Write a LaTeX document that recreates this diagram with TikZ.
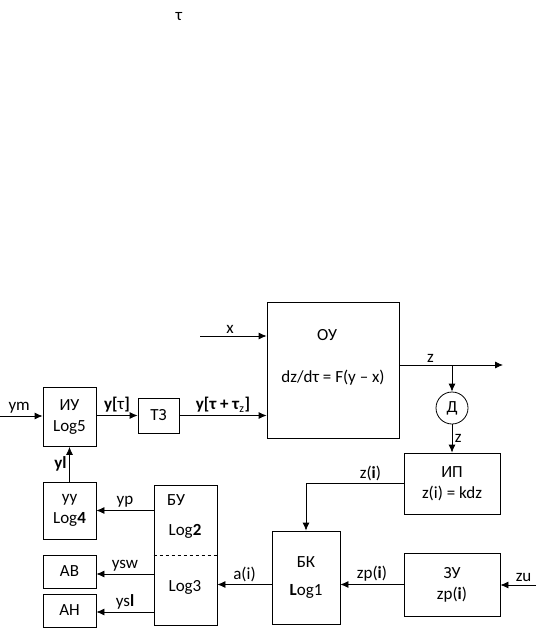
\documentclass[tikz,border=0pt]{standalone}
\usepackage{fontspec}
\setmainfont{Carlito}
\usepackage{tikz}
\usetikzlibrary{arrows.meta}
\tikzstyle{arrow} = [->,>={Latex[length=8pt,width=7pt]}]
\tikzstyle{block} = [draw,line width=0.8pt,align=center,inner sep=0pt]
\tikzstyle{lbl} = [inner sep=2.5pt]

\begin{document}
\begin{tikzpicture}[x=1pt,y=-1pt,line width=0.8pt,font=\fontsize{17}{21}\selectfont]
\useasboundingbox (0,0) rectangle (536,628);

\node[lbl] (tau) at (179,17) {τ};

% blocks
\node[block,minimum width=53pt,minimum height=59pt] (iu) at (69.5,417) {ИУ\\Log5};
\node[block,minimum width=41pt,minimum height=35pt] (tz) at (158.5,415.5) {ТЗ};
\node[block,minimum width=132pt,minimum height=136pt] (ou) at (333,370) {};
\node[lbl] (ou-t) at (327,335) {ОУ};
\node[lbl] (ou-f) at (333,378) {dz/dτ = F(y – x)};
\node[block,circle,minimum size=32pt] (dd) at (452,408) {Д};
\node[block,minimum width=96pt,minimum height=61pt] (ip) at (452,483.5) {ИП\\z(i) = kdz};
\node[block,minimum width=68pt,minimum height=93pt] (bk) at (306,577.5) {БК\\[7pt]\textbf{L}og1};
\node[block,minimum width=96pt,minimum height=63pt] (zu) at (452,584.5) {ЗУ\\zp(\textbf{i})};
\node[block,minimum width=63pt,minimum height=140pt] (bu) at (185.5,555) {};
\node[lbl] (bu-t) at (176,500) {БУ};
\node[lbl] (bu-l2) at (185,531) {Log\textbf{2}};
\node[lbl] (bu-l3) at (185,587) {Log3};
\draw[dashed] (bu.west) -- (bu.east);
\node[block,minimum width=53pt,minimum height=57pt] (uu) at (69.5,510.5) {уу\\Log\textbf{4}};
\node[block,minimum width=53pt,minimum height=33pt] (av) at (69.5,571.5) {АВ};
\node[block,minimum width=53pt,minimum height=33pt] (an) at (69.5,610.5) {АН};

% free ends
\coordinate (ymin) at (0,416);
\coordinate (xin) at (200,336);
\coordinate (zout) at (503,365);
\coordinate (zuin) at (536,585);

% connectors
\draw[arrow] (ymin) -- node[lbl,above,pos=0.45] {ym} (ymin -| iu.west);
\draw[arrow] (iu.east |- tz.west) -- node[lbl,above] {\textbf{y[}τ\textbf{]}} (tz.west);
\draw[arrow] (tz.east) -- node[lbl,above] {\textbf{y[τ + τ}\textsubscript{z}\textbf{]}} (tz.east -| ou.west);
\draw[arrow] (xin) -- node[lbl,above,pos=0.45] {x} (xin -| ou.west);
\draw[arrow] (ou.east |- zout) -- node[lbl,above,pos=0.3] {z} (zout);
\draw[arrow] (dd |- zout) -- (dd.north);
\draw[arrow] (dd.south) -- node[lbl,right] {z} (ip.north);
\draw[arrow] (ip.west) -| node[lbl,above,pos=0.17] {z(\textbf{i})} (bk.north);
\draw[arrow] (zuin) -- node[lbl,above,pos=0.35] {zu} (zuin -| zu.east);
\draw[arrow] (zu.west) -- node[lbl,above] {zp(\textbf{i})} (zu.west -| bk.east);
\draw[arrow] (bk.west |- zu) -- node[lbl,above] {a(i)} (bu.east |- zu);
\draw[arrow] (bu.west |- uu) -- node[lbl,above] {yp} (uu.east);
\draw[arrow] (bu.west |- 0,574) -- node[lbl,above] {ysw} (av.east |- 0,574);
\draw[arrow] (bu.west |- 0,612) -- node[lbl,above] {ys\textbf{l}} (an.east |- 0,612);
\draw[arrow] (uu.north) -- node[lbl,left] {\textbf{yl}} (iu.south);
\end{tikzpicture}
\end{document}
